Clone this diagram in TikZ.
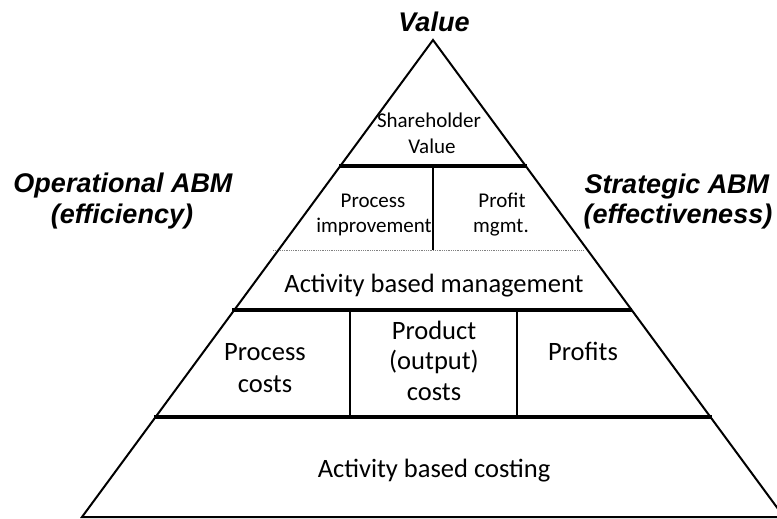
\documentclass[tikz,border=0pt]{standalone}
\usepackage{fontspec}
\setmainfont{Carlito}
\newfontfamily\labfont{Liberation Sans}
\begin{document}
\begin{tikzpicture}[x=1pt,y=-1pt,
  edge/.style={line width=2pt, line join=miter},
  band/.style={line width=3.6pt},
  divider/.style={line width=2pt},
  dotline/.style={line width=0.8pt, gray, dash pattern=on 0.9pt off 0.9pt},
  big/.style={font=\fontsize{26.5}{31}\selectfont, anchor=base, inner sep=0pt},
  small/.style={font=\fontsize{21}{25}\selectfont, anchor=base, inner sep=0pt},
  lab/.style={font=\labfont\bfseries\itshape\fontsize{27}{31}\selectfont, anchor=base, inner sep=0pt}]
\useasboundingbox (0,0) rectangle (777,519);
\clip (0,0) rectangle (777,519);
% triangle corners
\coordinate (apex) at (433,40);
\coordinate (bl) at (82,517);
\coordinate (br) at (784,517);
% band ends
\coordinate (b1l) at (339,166);  \coordinate (b1r) at (527,166);
\coordinate (b2l) at (232,310);  \coordinate (b2r) at (632,310);
\coordinate (b3l) at (154,417);  \coordinate (b3r) at (712,417);
\coordinate (dl) at (273,250);   \coordinate (dr) at (584,250);
\coordinate (v1t) at (433,166);  \coordinate (v1b) at (433,250);
\coordinate (v2t) at (350,310);  \coordinate (v2b) at (350,417);
\coordinate (v3t) at (517,310);  \coordinate (v3b) at (517,417);
% lines
\draw[dotline] (dl) -- (dr);
\draw[divider] (v1t) -- (v1b);
\draw[divider] (v2t) -- (v2b);
\draw[divider] (v3t) -- (v3b);
\draw[band] (b1l) -- (b1r);
\draw[band] (b2l) -- (b2r);
\draw[band] (b3l) -- (b3r);
\draw[edge] (bl) -- (apex) -- (br) -- cycle;
% side labels
\node[lab] (val) at (434,31.5) {Value};
\node[lab] (op1) at (123,192) {Operational ABM};
\node[lab] (op2) at (122,223) {(efficiency)};
\node[lab] (st1) at (677,193) {Strategic ABM};
\node[lab] (st2) at (678,223) {(effectiveness)};
% inner texts
\node[small] (sh1) at (429,128) {Shareholder};
\node[small] (sh2) at (432,153) {Value};
\node[small] (pi1) at (373,207) {Process};
\node[small] (pi2) at (374,232) {improvement};
\node[small] (pm1) at (502,207) {Profit};
\node[small] (pm2) at (501,232) {mgmt.};
\node[big] (abm) at (434,292) {Activity based management};
\node[big] (pc1) at (265,360) {Process};
\node[big] (pc2) at (265,392) {costs};
\node[big] (po1) at (434,339) {Product};
\node[big] (po2) at (434,369) {(output)};
\node[big] (po3) at (434,400) {costs};
\node[big] (pf) at (583,360) {Profits};
\node[big] (abc) at (434,477) {Activity based costing};
\end{tikzpicture}
\end{document}
